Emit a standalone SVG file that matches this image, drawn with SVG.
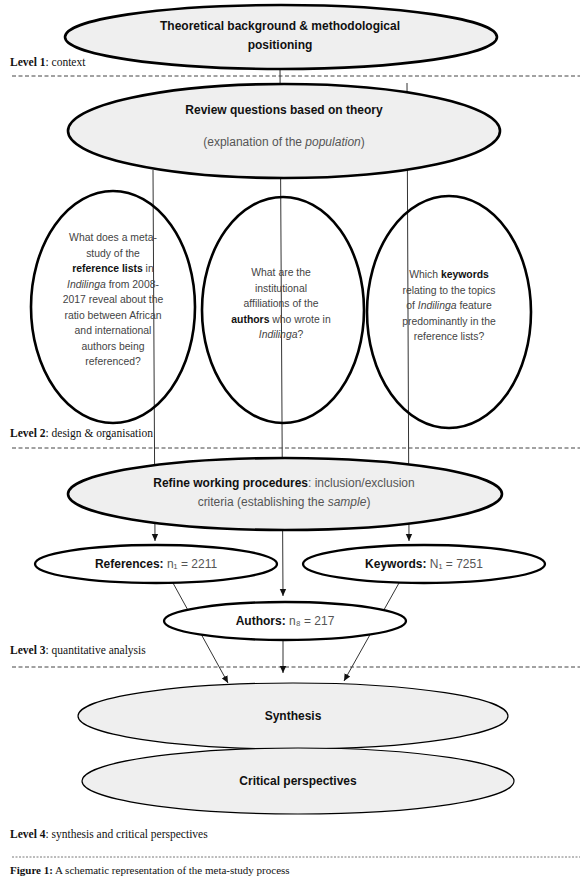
<svg xmlns="http://www.w3.org/2000/svg" width="580" height="881" viewBox="0 0 580 881">
<defs>
<marker id="arr" markerUnits="userSpaceOnUse" markerWidth="8" markerHeight="8" refX="7" refY="4" orient="auto">
<path d="M0,0.8 L7,4 L0,7.2 z" fill="#111"/>
</marker>
<style>
.big{stroke:#000;stroke-width:2.6;fill:#efefef}
.q{stroke:#000;stroke-width:2.6;fill:none}
.n{stroke:#000;stroke-width:2.3;fill:#fff}
.thin{stroke:#000;stroke-width:1.2;fill:#efefef}
.t{font-family:"Liberation Sans",Arial,sans-serif;text-anchor:middle}
.h{font-size:12px;font-weight:bold;fill:#111}
.s{font-size:12px;fill:#555}
.qt{font-size:10.4px;fill:#444}
.b{font-weight:bold;fill:#111}
.i{font-style:italic}
.lv{font-family:"Liberation Serif","Times New Roman",serif;font-size:11.5px;fill:#111}
.cap{font-family:"Liberation Serif","Times New Roman",serif;font-size:11px;fill:#111}
.dash{stroke:#444;stroke-width:1;stroke-dasharray:4 2.5;fill:none}
.dash2{stroke:#555;stroke-width:0.8;stroke-dasharray:2 1.5;fill:none}
.c{stroke:#333;stroke-width:1;fill:none}
</style>
</defs>
<rect width="580" height="881" fill="#fff"/>

<g id="levels">
<text class="lv" x="10" y="66"><tspan font-weight="bold">Level 1</tspan>: context</text>
<line class="dash" x1="12" y1="76" x2="580" y2="76"/>
<text class="lv" x="10" y="437"><tspan font-weight="bold">Level 2</tspan>: design &amp; organisation</text>
<line class="dash" x1="12" y1="448" x2="580" y2="448"/>
<text class="lv" x="10" y="654"><tspan font-weight="bold">Level 3</tspan>: quantitative analysis</text>
<line class="dash" x1="12" y1="667" x2="580" y2="667"/>
<text class="lv" x="10" y="838"><tspan font-weight="bold">Level 4</tspan>: synthesis and critical perspectives</text>
<line class="dash2" x1="12" y1="857" x2="580" y2="857"/>
<text class="cap" x="10" y="874"><tspan font-weight="bold">Figure 1:</tspan> A schematic representation of the meta-study process</text>
</g>

<g id="connectors">
<line class="c" x1="280" y1="68" x2="283" y2="596" marker-end="url(#arr)"/>
<line class="c" x1="153" y1="170" x2="155" y2="541" marker-end="url(#arr)"/>
<line class="c" x1="407" y1="83" x2="409" y2="541" marker-end="url(#arr)"/>
<line class="c" x1="173" y1="583" x2="228" y2="683" marker-end="url(#arr)"/>
<line class="c" x1="399" y1="583" x2="344" y2="681" marker-end="url(#arr)"/>
<line class="c" x1="283" y1="640" x2="283" y2="673" marker-end="url(#arr)"/>
</g>

<g id="theory">
<ellipse class="big" cx="281" cy="37" rx="216" ry="32"/>
<text class="t h" x="280" y="30">Theoretical background &amp; methodological</text>
<text class="t h" x="280" y="49">positioning</text>
</g>

<g id="review">
<ellipse class="big" cx="284" cy="131" rx="216" ry="47"/>
<text class="t h" x="284" y="114">Review questions based on theory</text>
<text class="t s" x="284" y="146">(explanation of the <tspan class="i">population</tspan>)</text>
</g>

<g id="q-references">
<ellipse class="q" cx="113" cy="307" rx="82" ry="116"/>
<text class="t qt" x="113" y="241">What does a meta-</text>
<text class="t qt" x="113" y="256.5">study of the</text>
<text class="t qt" x="113" y="272"><tspan class="b">reference lists</tspan> in</text>
<text class="t qt" x="113" y="287.5"><tspan class="i">Indilinga</tspan> from 2008-</text>
<text class="t qt" x="113" y="303">2017 reveal about the</text>
<text class="t qt" x="113" y="318.5">ratio between African</text>
<text class="t qt" x="113" y="334">and international</text>
<text class="t qt" x="113" y="349.5">authors being</text>
<text class="t qt" x="113" y="365">referenced?</text>
</g>

<g id="q-authors">
<ellipse class="q" cx="283" cy="310" rx="81" ry="113"/>
<text class="t qt" x="281" y="276">What are the</text>
<text class="t qt" x="281" y="291.5">institutional</text>
<text class="t qt" x="281" y="307">affiliations of the</text>
<text class="t qt" x="281" y="322.5"><tspan class="b">authors</tspan> who wrote in</text>
<text class="t qt" x="281" y="338"><tspan class="i">Indilinga</tspan>?</text>
</g>

<g id="q-keywords">
<ellipse class="q" cx="449" cy="312" rx="82" ry="116"/>
<text class="t qt" x="449" y="278">Which <tspan class="b">keywords</tspan></text>
<text class="t qt" x="449" y="293.5">relating to the topics</text>
<text class="t qt" x="449" y="309">of <tspan class="i">Indilinga</tspan> feature</text>
<text class="t qt" x="449" y="324.5">predominantly in the</text>
<text class="t qt" x="449" y="340">reference lists?</text>
</g>

<g id="refine">
<ellipse class="big" cx="285" cy="494" rx="217" ry="36"/>
<text class="t s" x="284" y="487"><tspan class="b">Refine working procedures</tspan>: inclusion/exclusion</text>
<text class="t s" x="284" y="506">criteria (establishing the <tspan class="i">sample</tspan>)</text>
</g>

<g id="references">
<ellipse class="n" cx="156" cy="564" rx="121" ry="19"/>
<text class="t s" x="156" y="568"><tspan class="b">References:</tspan> n₁ = 2211</text>
</g>

<g id="keywords">
<ellipse class="n" cx="424" cy="564" rx="121" ry="19"/>
<text class="t s" x="424" y="568"><tspan class="b">Keywords:</tspan> N₁ = 7251</text>
</g>

<g id="authors">
<ellipse class="n" cx="285" cy="621" rx="121" ry="19"/>
<text class="t s" x="285" y="625"><tspan class="b">Authors:</tspan> n₈ = 217</text>
</g>

<g id="synthesis">
<ellipse class="thin" cx="293" cy="716" rx="215" ry="33"/>
<text class="t h" x="293" y="720">Synthesis</text>
</g>

<g id="critical">
<ellipse class="thin" cx="298" cy="781" rx="216" ry="33"/>
<text class="t h" x="298" y="785">Critical perspectives</text>
</g>
</svg>
